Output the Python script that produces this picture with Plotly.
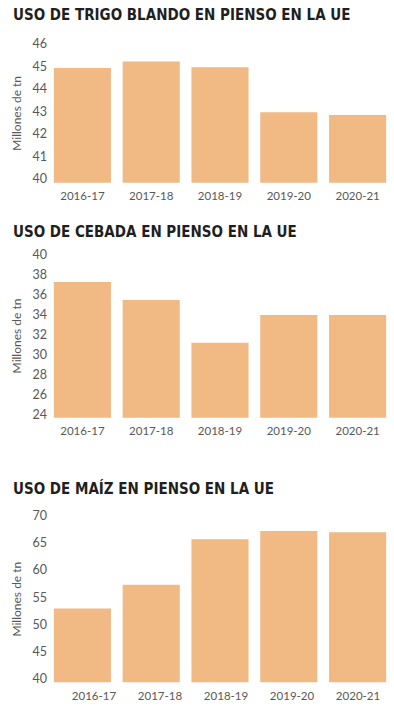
import plotly.graph_objects as go
from plotly.subplots import make_subplots

campaigns = ["2016-17", "2017-18", "2018-19", "2019-20", "2020-21"]
trigo = [44.93, 45.22, 44.97, 42.97, 42.85]
cebada = [37.23, 35.45, 31.19, 33.96, 33.96]
maiz = [52.9, 57.3, 65.7, 67.25, 67.0]

titles = ["USO DE TRIGO BLANDO EN PIENSO EN LA UE",
          "USO DE CEBADA EN PIENSO EN LA UE",
          "USO DE MAÍZ EN PIENSO EN LA UE"]
y_ticks = [list(range(40, 47, 1)), list(range(24, 41, 2)), list(range(40, 71, 5))]
y_ranges = [[39.836, 46], [23.73, 40], [39.26, 70]]

BAR = "#F1B983"
TXT = "#585858"
W, H = 394, 720

def py(px):
    return 1 - px / H

fig = make_subplots(rows=3, cols=1)
domains = [(py(182.7), py(44)), (py(417.7), py(254.3)), (py(682.3), py(516))]
title_y = [15, 232, 488]
XDOM = [48 / W, 392 / W]

for i, vals in enumerate([trigo, cebada, maiz]):
    fig.add_trace(go.Bar(x=campaigns, y=vals, marker_color=BAR,
                         marker_line_width=0, showlegend=False), row=i + 1, col=1)
    xa = "xaxis" if i == 0 else f"xaxis{i+1}"
    ya = "yaxis" if i == 0 else f"yaxis{i+1}"
    fig.layout[xa].update(domain=XDOM, showgrid=False, showline=False,
                          zeroline=False, ticks="", automargin=False,
                          showticklabels=(i != 2), ticklabelstandoff=5,
                          tickfont=dict(family="Lato", size=11.5, color=TXT))
    fig.layout[ya].update(domain=list(domains[i]), range=y_ranges[i],
                          tickvals=y_ticks[i], showgrid=False, showline=False,
                          zeroline=False, ticks="", automargin=False,
                          tickfont=dict(family="Lato", size=12.5, color=TXT),
                          title=dict(text="Millones de tn", standoff=8,
                                     font=dict(family="Lato", size=12, color=TXT)))
    fig.add_annotation(text=titles[i], xref="paper", yref="paper",
                       x=11 / W, y=py(title_y[i]), xanchor="left", yanchor="middle",
                       showarrow=False,
                       font=dict(family="DejaVu Sans Condensed", size=15,
                                 color="#1f1f1f", weight="bold"))

# third chart: its labels sit on their own evenly spaced axis (as in the original)
fig.add_trace(go.Scatter(x=list(range(len(campaigns))), y=maiz, mode="none",
                         xaxis="x4", yaxis="y3", hoverinfo="skip", showlegend=False))
fig.update_layout(xaxis4=dict(overlaying="x3", anchor="y3", domain=XDOM,
                              type="linear", range=[-0.697, 4.515],
                              tickvals=list(range(len(campaigns))), ticktext=campaigns,
                              showgrid=False, showline=False, zeroline=False,
                              ticks="", automargin=False, side="bottom",
                              ticklabelstandoff=5,
                              tickfont=dict(family="Lato", size=11.5, color=TXT)))

fig.update_layout(width=W, height=H, margin=dict(l=0, r=0, t=0, b=0),
                  paper_bgcolor="white", plot_bgcolor="white", bargap=0.17)
fig.write_html("out.html", config={"displayModeBar": False},
               post_script="document.body.style.margin='0';")
